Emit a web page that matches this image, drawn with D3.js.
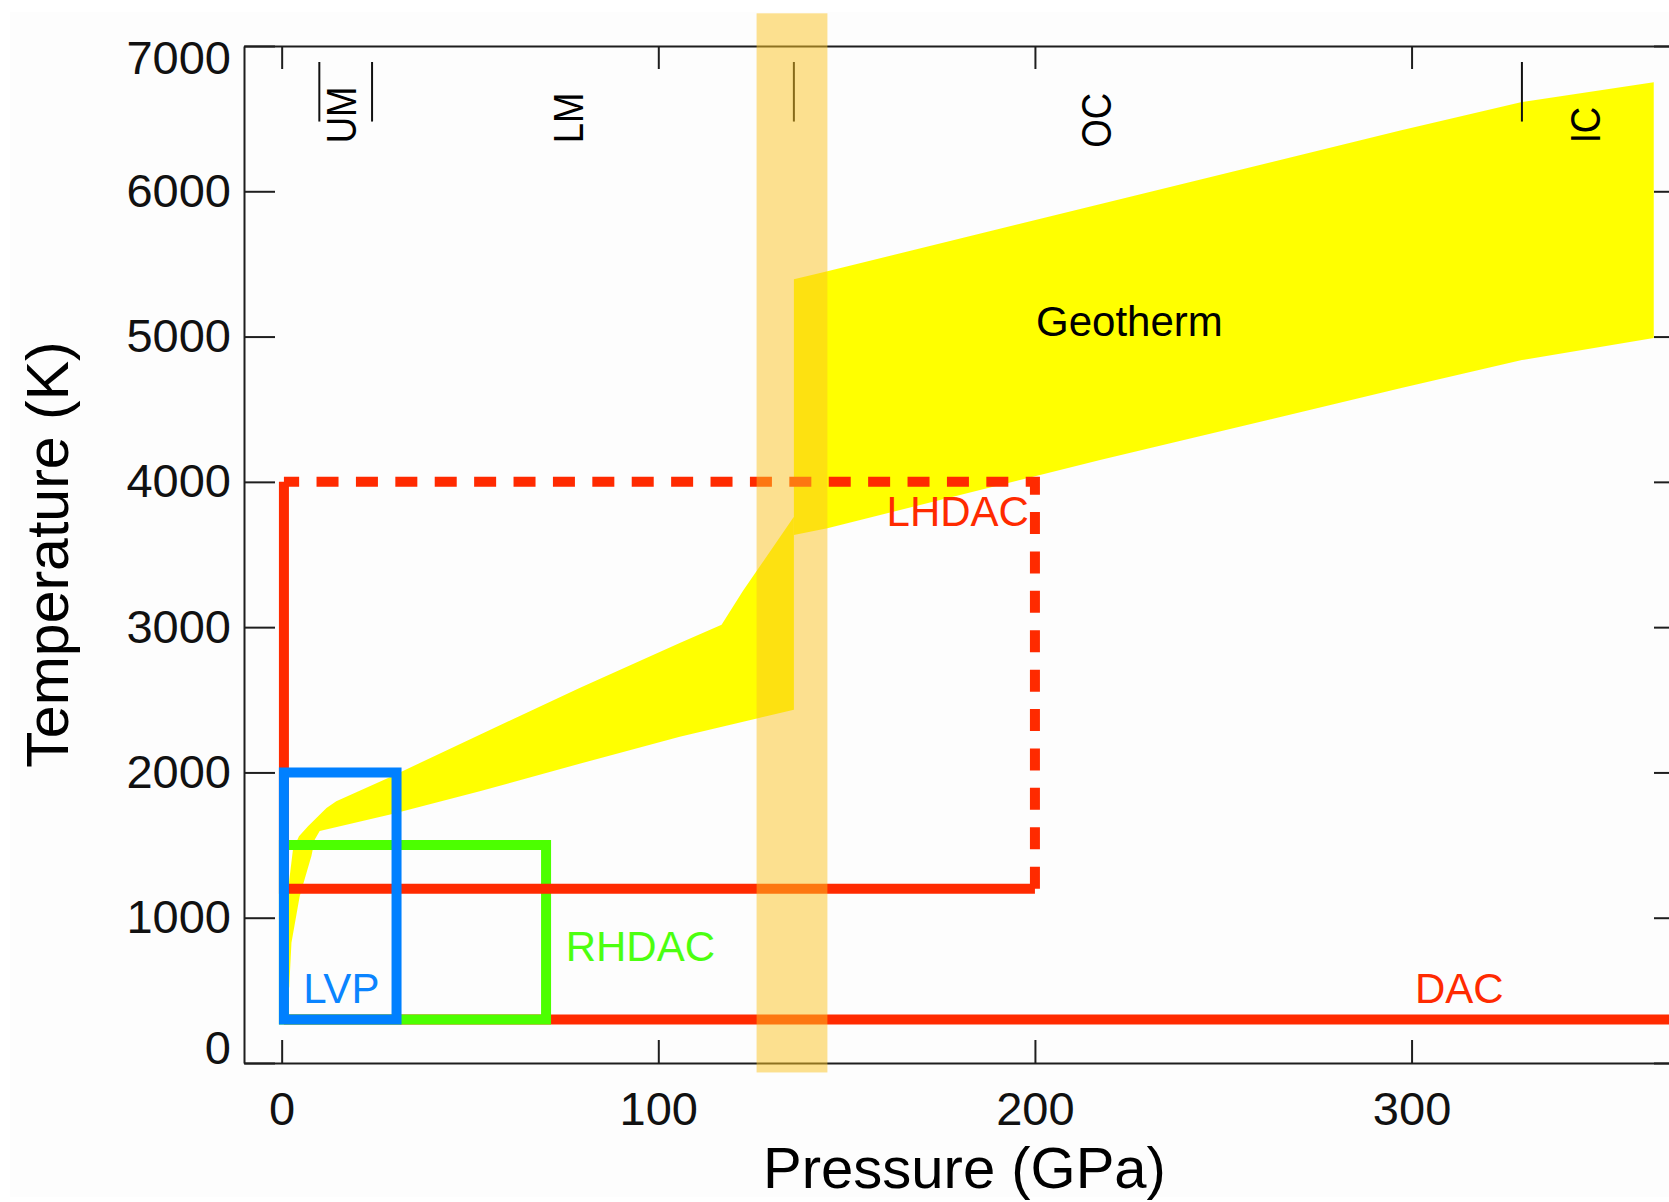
<!DOCTYPE html>
<html>
<head>
<meta charset="utf-8">
<script src="https://cdnjs.cloudflare.com/ajax/libs/d3/7.8.5/d3.min.js"></script>
<style>
  body { margin: 0; background: #fff; }
  svg { display: block; font-family: "Liberation Sans", Arial, Helvetica, sans-serif; }
  .axis path, .axis line { stroke: #1e1e1e; stroke-width: 2; }
  .axis text { font-size: 47px; fill: #111; }
</style>
</head>
<body>
<svg class="chart"></svg>
<script>
// axis ticks
var pressureTicks = [0, 100, 200, 300];
var tempTicks = [0, 1000, 2000, 3000, 4000, 5000, 6000, 7000];

// geotherm band, mantle part (GPa, K)
var mantleTopP = [1.0, 1.5, 3.0, 4.6, 7.0, 11.9, 14.5, 28.7, 52.6, 79.1, 105.7, 116.8, 122.5, 136.0];
var mantleTopT = [520, 1150, 1470, 1561, 1630, 1756, 1802, 1967, 2260, 2581, 2891, 3017, 3250, 3760];
var mantleBotP = [2.0, 2.6, 4.8, 6.6, 7.9, 8.8, 10.1, 29.1, 52.6, 79.1, 105.7, 125.9, 136.0];
var mantleBotT = [520, 828, 1149, 1310, 1424, 1539, 1596, 1712, 1870, 2060, 2245, 2370, 2432];

// geotherm band, core part
var coreTopP = [136.0, 144.9, 297.0, 329.3, 364.3];
var coreTopT = [5395, 5450, 6419, 6614, 6750];
var coreBotP = [136.0, 144.9, 217.3, 297.0, 329.3, 364.3];
var coreBotT = [3635, 3681, 4151, 4644, 4838, 4990];

// experimental ranges
var dacP = [0.6, 372.6], dacT = 300;
var lhdacP = [0.6, 200], lhdacT = [1200, 4000];
var rhdacP = [0.6, 70.2], rhdacT = [300, 1500];
var lvpP = [0.6, 30.5], lvpT = [300, 2000];

// earth layers
var layerNames = ["UM", "LM", "OC", "IC"];
var layerP = [19.8, 79.9, 220.2, 349.9];
var layerT = [6330, 6330, 6300, 6330];
var boundaryP = [10, 24, 136, 329.3];
var boundaryT = [6480, 6890];

// core-mantle boundary highlight
var bandP = [126.1, 144.9];
var bandT = [-65, 7225];

// labels
var labels = [
  {text: "Geotherm", p: 200.3, t: 5003, color: "#000"},
  {text: "LHDAC", p: 160.6, t: 3697, color: "#ff2a00"},
  {text: "RHDAC", p: 75.4, t: 702, color: "#4cff10"},
  {text: "LVP", p: 5.7, t: 411, color: "#0a84ff"},
  {text: "DAC", p: 300.9, t: 416, color: "#ff2a00"}
];

var W = 1669, H = 1202;

var svg = d3.select(".chart")
    .attr("width", W)
    .attr("height", H);

svg.append("rect")
    .attr("x", 10).attr("y", 12)
    .attr("width", W - 10).attr("height", H - 17)
    .attr("fill", "#fdfdfd");

var x = d3.scaleLinear().domain([-10, 372.6]).range([244, 1685]);
var y = d3.scaleLinear().domain([0, 7000]).range([1063, 46]);

var line = d3.line()
    .x(function(d) { return x(d[0]); })
    .y(function(d) { return y(d[1]); });

function band(topP, topT, botP, botT) {
  var pts = topP.map(function(p, i) { return [p, topT[i]]; });
  for (var i = botP.length - 1; i >= 0; i--) pts.push([botP[i], botT[i]]);
  return line(pts) + "Z";
}

svg.append("path")
    .attr("d", band(mantleTopP, mantleTopT, mantleBotP, mantleBotT))
    .attr("fill", "#ffff00");

svg.append("path")
    .attr("d", band(coreTopP, coreTopT, coreBotP, coreBotT))
    .attr("fill", "#ffff00");

svg.append("path")
    .attr("d", line([[dacP[0], dacT], [dacP[1], dacT]]))
    .attr("fill", "none")
    .attr("stroke", "#ff2a00")
    .attr("stroke-width", 10);

svg.append("path")
    .attr("d", line([[rhdacP[0], rhdacT[0]], [rhdacP[1], rhdacT[0]], [rhdacP[1], rhdacT[1]], [rhdacP[0], rhdacT[1]]]) + "Z")
    .attr("fill", "none")
    .attr("stroke", "#4cff00")
    .attr("stroke-width", 10);

svg.append("path")
    .attr("d", line([[lhdacP[0], lhdacT[1]], [lhdacP[0], lhdacT[0]], [lhdacP[1], lhdacT[0]]]))
    .attr("fill", "none")
    .attr("stroke", "#ff2a00")
    .attr("stroke-width", 10);

svg.append("path")
    .attr("d", line([[lhdacP[1], lhdacT[0]], [lhdacP[1], lhdacT[1]], [lhdacP[0], lhdacT[1]]]))
    .attr("fill", "none")
    .attr("stroke", "#ff2a00")
    .attr("stroke-width", 10)
    .attr("stroke-dasharray", "22 17.4");

svg.append("path")
    .attr("d", line([[lvpP[0], lvpT[0]], [lvpP[1], lvpT[0]], [lvpP[1], lvpT[1]], [lvpP[0], lvpT[1]]]) + "Z")
    .attr("fill", "none")
    .attr("stroke", "#0080ff")
    .attr("stroke-width", 10);

svg.selectAll(".label")
    .data(labels)
  .enter().append("text")
    .attr("class", "label")
    .attr("x", function(d) { return x(d.p); })
    .attr("y", function(d) { return y(d.t); })
    .attr("fill", function(d) { return d.color; })
    .style("font-size", "42px")
    .text(function(d) { return d.text; });

// layer boundary marks and names
svg.selectAll(".boundary")
    .data(boundaryP)
  .enter().append("line")
    .attr("class", "boundary")
    .attr("x1", function(d) { return x(d); })
    .attr("x2", function(d) { return x(d); })
    .attr("y1", y(boundaryT[0]))
    .attr("y2", y(boundaryT[1]))
    .attr("stroke", "#111")
    .attr("stroke-width", 2);

svg.selectAll(".layer")
    .data(layerNames)
  .enter().append("text")
    .attr("class", "layer")
    .attr("transform", function(d, i) {
      return "translate(" + x(layerP[i]) + "," + y(layerT[i]) + ") rotate(-90) scale(0.85,1)";
    })
    .style("font-size", "43px")
    .attr("fill", "#000")
    .text(function(d) { return d; });

// axes, ticks pointing inward
svg.append("g")
    .attr("class", "axis")
    .attr("transform", "translate(0," + y(0) + ")")
    .call(d3.axisBottom(x).tickValues(pressureTicks).tickSizeInner(-23).tickSizeOuter(0).tickPadding(29).tickFormat(d3.format("d")));

svg.append("g")
    .attr("class", "axis")
    .attr("transform", "translate(0," + y(7000) + ")")
    .call(d3.axisTop(x).tickValues(pressureTicks).tickSizeInner(-23).tickSizeOuter(0).tickFormat(""));

var yAxis = svg.append("g")
    .attr("class", "axis")
    .attr("transform", "translate(" + x(-10) + ",0)")
    .call(d3.axisLeft(y).tickValues(tempTicks).tickSizeInner(-31).tickSizeOuter(0).tickPadding(13).tickFormat(d3.format("d")));

yAxis.selectAll(".tick text")
    .attr("y", function(d) { return d === 7000 ? 12 : (d === 0 ? -15 : 0); });

svg.append("g")
    .attr("class", "axis")
    .attr("transform", "translate(" + x(372.6) + ",0)")
    .call(d3.axisRight(y).tickValues(tempTicks).tickSizeInner(-31).tickSizeOuter(0).tickFormat(""));

svg.selectAll(".axis .domain").attr("stroke-width", 2.5);

svg.append("text")
    .attr("x", (x(-10) + x(372.6)) / 2)
    .attr("y", 1188)
    .style("text-anchor", "middle")
    .style("font-size", "58px")
    .attr("fill", "#000")
    .text("Pressure (GPa)");

svg.append("text")
    .attr("transform", "translate(68," + (y(0) + y(7000)) / 2 + ") rotate(-90)")
    .style("text-anchor", "middle")
    .style("font-size", "59px")
    .attr("fill", "#000")
    .text("Temperature (K)");

// translucent core-mantle boundary band on top
svg.append("rect")
    .attr("x", x(bandP[0]))
    .attr("y", y(bandT[1]))
    .attr("width", x(bandP[1]) - x(bandP[0]))
    .attr("height", y(bandT[0]) - y(bandT[1]))
    .attr("fill", "rgb(252,195,34)")
    .attr("fill-opacity", 0.5);
</script>
</body>
</html>
